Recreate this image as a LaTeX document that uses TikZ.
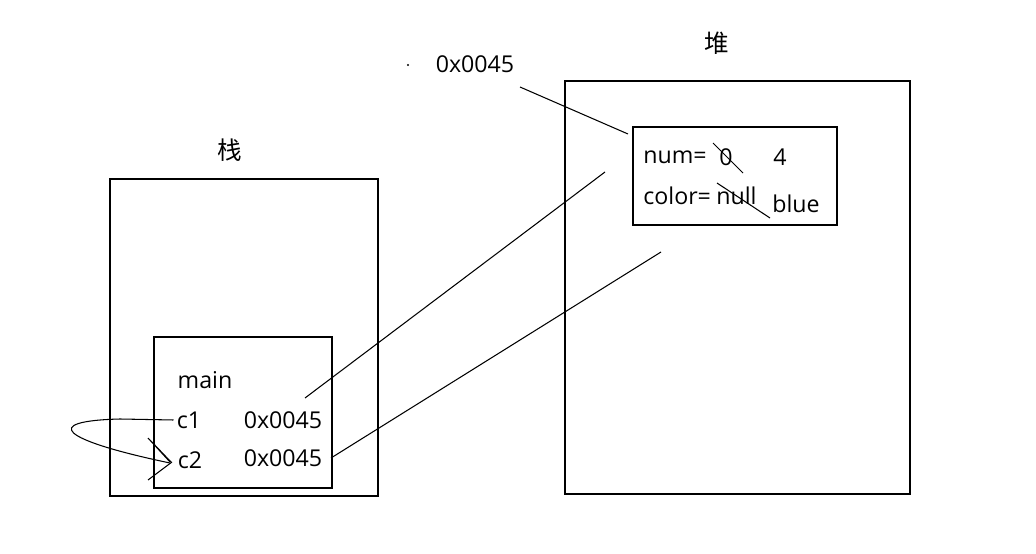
\documentclass[tikz,border=0pt]{standalone}
\usepackage{fontspec}
\setmainfont{Open Sans}
\newfontfamily\cjk{Noto Sans CJK SC}
\begin{document}
\begin{tikzpicture}[x=0.02cm,y=-0.02cm,
  lbl/.style={font=\fontsize{13.2}{15}\selectfont,inner sep=0pt},
  zh/.style={font=\cjk\fontsize{14}{16}\selectfont,inner sep=0pt},
  wire/.style={line width=0.6pt}]
  \useasboundingbox (0,0) rectangle (1036,554);
  % stack
  \draw[wire] (110,179) rectangle (378,496);
  \draw[wire] (154,337) rectangle (332,488);
  \node[zh] (stk) at (230,150) {栈};
  \node[lbl] (main) at (205,380) {main};
  \node[lbl] (c1) at (189,420) {c1};
  \node[lbl] (c2) at (190,460) {c2};
  \node[lbl] (v1) at (283,420) {0x0045};
  \node[lbl] (v2) at (283,458) {0x0045};
  % heap
  \draw[wire] (565,81) rectangle (910,494);
  \draw[wire] (633,127) rectangle (837,225);
  \node[zh] (hp) at (717,43) {堆};
  \node[lbl] (addr) at (475,64) {0x0045};
  \fill (408,65) circle (0.6pt);
  \node[lbl,anchor=west] (num) at (643,157) {num=};
  \node[lbl] (n0) at (726,157) {0};
  \node[lbl] (n4) at (780,157) {4};
  \node[lbl,anchor=west] (col) at (643,196) {color=};
  \node[lbl,anchor=west] (cnull) at (716,196) {null};
  \node[lbl] (cblue) at (796,204) {blue};
  % strike outs
  \draw[wire] (713,143) -- (743,173);
  \draw[wire] (717,183) -- (770,218);
  % pointers
  \coordinate (a1) at (520,87);
  \coordinate (a2) at (628,134);
  \coordinate (p1) at (305,398);
  \coordinate (h1) at (605,172);
  \coordinate (p2) at (331,458);
  \coordinate (h2) at (661,252);
  \draw[wire] (a1) -- (a2);
  \draw[wire] (p1) -- (h1);
  \draw[wire] (p2) -- (h2);
  % c1 = c2
  \draw[wire] (c1.west) ++(-3,0) -- (120,419)
    .. controls (40,421) and (60,440) .. (170,463);
  \draw[wire] (148,438) -- (170,462) (150,440) -- (171,462);
  \draw[wire] (148,480) -- (172,462);
\end{tikzpicture}
\end{document}
